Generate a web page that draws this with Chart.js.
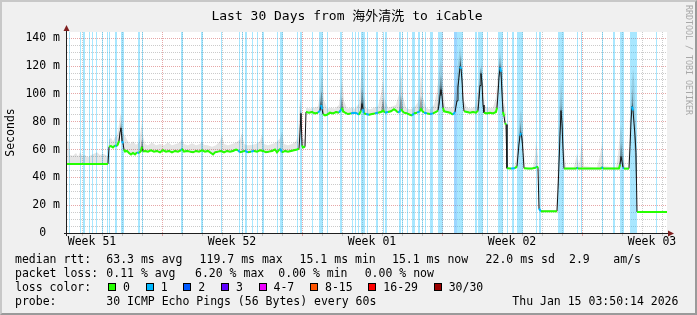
<!DOCTYPE html>
<html><head><meta charset="utf-8">
<script src="https://cdn.jsdelivr.net/npm/chart.js@4.4.1/dist/chart.umd.min.js"></script>
<style>
html,body{margin:0;padding:0;background:#f0f0f0;}
#wrap{position:relative;width:697px;height:315px;background:#f0f0f0;overflow:hidden;font-family:"DejaVu Sans Mono",monospace;}
#frame{position:absolute;left:0;top:0;width:697px;height:315px;box-sizing:border-box;border-top:2px solid #c8c8c8;border-left:2px solid #c8c8c8;border-right:2px solid #9a9a9a;border-bottom:2px solid #9a9a9a;pointer-events:none;}
canvas{position:absolute;left:0;top:0;}
.t{position:absolute;white-space:pre;font-family:"DejaVu Sans Mono",monospace;font-size:11.5px;line-height:14px;color:#000;}
#title{position:absolute;left:0;width:694px;top:8px;text-align:center;font-family:"DejaVu Sans Mono","Noto Sans CJK SC",monospace;font-size:13px;line-height:16px;white-space:pre;color:#000;}
#wm{position:absolute;left:684px;top:5px;writing-mode:vertical-rl;font-family:"DejaVu Sans Mono",monospace;font-size:8.3px;line-height:9px;color:#a8a8a8;white-space:pre;}
.lc{position:absolute;display:flex;align-items:center;height:14px;font-family:"DejaVu Sans Mono",monospace;font-size:11.5px;white-space:pre;}
.box{display:inline-block;width:8px;height:8px;box-sizing:border-box;border:1px solid #000;margin-right:7px;}
.lab{margin-right:15.7px;}
</style></head>
<body>
<div id="wrap">
  <canvas id="c" width="697" height="315"></canvas>
  <div id="title">Last 30 Days from 海外清洗 to iCable</div>
  <div id="wm">RRDTOOL / TOBI OETIKER</div>
  <div id="legend"></div>
  <div id="frame"></div>
</div>
<script>
// ---- DATA (x = RRD row index, one row = 72 minutes; 600 rows = 30 days) ----
const STEP_MINUTES = 72;
const ROWS = 600;

// median RTT in ms
const median = [
 [0,49.6],[41,49.6],[42,62],[44,62.5],[46,61.5],[48,63],[50,62.5],[51,64],[52,66],[53,72],[54,75.5],[55,66],[56,64.5],[57,60],[58,58.5],
 [60,59],[62,57.5],[64,56.5],[66,57.5],[68,56.5],[70,58],[72,57.5],[74,59],[75,62],[76,58.5],[78,59],[81,58.5],[84,59.5],[87,58.5],[90,59],
 [93,58],[96,59.5],[99,58.5],[102,59],[105,58],[108,59],[111,58.5],[114,59.5],[115,60.5],[117,58.5],[120,59],[123,58.5],[126,58],[129,59],
 [132,58.5],[135,59.5],[138,58.5],[141,59],[144,57.5],[146,56.5],[148,58],[151,58.5],[154,59],[157,58],[160,59],[163,58.5],[166,59],[169,60],
 [171,59.5],[173,58],[175,58.5],[178,59],[181,58],[184,58.5],[187,59],[190,58.5],[193,59.5],[196,59],[199,58],[202,58.5],[205,59],[208,60],
 [210,58],[213,60.5],[215,58],[218,59],[221,58.5],[224,59],[227,59.5],[230,60],[232,60.5],[233,72],[234,86],[235,63],[236,61.5],[238,62],
 [239,87],[242,86.5],[245,87],[248,86],[251,86.5],[253,88],[254,92],[255,89],[256,85.5],[258,84.5],[260,85],[263,86.5],[266,86],[269,87],
 [272,86.5],[274,88.5],[275,90],[276,87.5],[278,86.5],[281,85.5],[284,86],[287,86.5],[290,86],[292,85],[294,88],[295,93],[296,89],[297,86],
 [299,85.5],[302,85],[305,85.5],[308,86],[311,86.5],[314,87],[316,88],[318,86.5],[321,87],[324,87.5],[327,89],[329,88],[331,86.5],[333,87.5],
 [334,89],[335,88],[337,86.5],[340,86],[343,85],[345,84.5],[347,86],[350,86.5],[353,87.5],[354,89],[355,88],[357,86.5],[360,86],[363,85.5],
 [366,86],[369,87],[371,88],[372,92],[373,98],[374,103],[375,98],[376,90],[377,87.5],[380,87],[383,86.5],[386,85],[388,87],[390,95],[391,105],
 [392,112],[393,119.7],[394,118],[395,110],[396,95],[397,87.5],[400,87],[403,86.5],[406,87],[409,86.5],[411,88],[412,96],[413,106],[414,114.6],
 [415,108],[416,92],[417,86.5],[420,86],[423,86.5],[426,86],[429,87],[430,90],[431,100],[432,112],[433,119],[434,116],[435,100],[436,87],
 [437,84],[438,79],[439,78],[440,46.5],[444,46.3],[448,46.5],[450,48],[451,56],[452,64],[453,70],[454,72],[455,68],[456,58],[457,46.5],
 [461,46.3],[465,46.3],[469,47],[470,48],[471,46.5],[472,17.5],[473,16.5],[474,15.6],[490,15.6],[491,31],[492,50],[493,70],[494,88],[495,79],
 [496,60],[497,46.3],[509,46.3],[510,47],[511,46.3],[534,46.3],[535,47.5],[536,46.3],[552,46.3],[553,49],[554,55],[555,51],[556,47],[557,46.3],
 [562,46.3],[563,62],[564,80],[565,91],[566,88],[567,79],[568,70],[569,58],[570,15.1],[600,15.1]
];

// upper edge of the light smoke (slowest pings), ms
const smokeMax = [
 [0,66],[2,66],[3,56],[6,55.5],[9,57.5],[11,55],[13,58],[15,55.5],[18,56],[21,54.5],[24,56],[27,57],[30,58],[33,56],[36,57],[39,56],[41,55],
 [42,67],[44,68.5],[46,66],[48,69],[50,70],[52,78],[53,84],[54,86],[55,80],[56,72],[58,70],[60,67],[63,64],[66,66],[69,63.5],[72,65],[74,75],
 [75,80],[76,70],[78,64],[81,63],[85,65],[89,63],[93,64],[97,63],[101,65],[105,63],[109,64],[113,65],[115,68],[117,64],[121,63],[125,64.5],
 [129,63],[133,64],[135,66],[137,63.5],[141,63],[145,62],[149,63],[153,66],[155,71],[157,64],[161,63],[165,64],[169,65],[173,67],[175,72],
 [177,64],[181,63],[185,63.5],[189,64],[193,66],[195,71],[197,64],[201,63],[205,64],[209,65],[213,68],[215,73],[217,64],[221,63],[225,64],
 [229,66],[231,70],[233,96],[234,93],[235,68],[238,67],[239,90],[243,89.5],[247,90],[251,91],[253,100],[255,116],[257,96],[260,89.5],[264,90],
 [268,89.5],[272,92],[274,104],[275,112],[277,95],[280,89.5],[284,90],[288,89.5],[292,93],[294,110],[295,121],[297,100],[299,90],[303,89],[307,90],
 [311,91],[314,100],[316,110],[318,96],[321,90],[325,91],[329,92],[332,100],[334,117],[336,98],[339,90],[343,89],[347,90],[351,94],[353,104],
 [354,116],[356,97],[359,90],[363,89],[367,92],[370,102],[372,115],[374,127],[376,108],[378,91],[382,90],[386,91],[389,105],[391,122],[393,134],
 [395,125],[397,95],[400,90],[404,89.5],[408,91],[411,103],[413,118],[414,125],[416,108],[418,91],[422,90],[426,90],[429,98],[431,118],[433,132],
 [435,120],[437,95],[439,86],[440,46.8],[447,46.8],[449,53],[451,70],[453,85],[454,89],[456,75],[458,47],[466,46.8],[468,55],[469,66],[471,55],
 [472,19],[475,16],[489,16],[490,30],[491,55],[492,85],[494,111],[495,100],[497,62],[499,47],[507,47],[509,54],[510,57],[512,48],[514,60],
 [515,65],[517,48],[530,47],[533,56],[535,65],[537,48],[549,47],[551,56],[553,72],[554,78],[556,62],[558,47],[561,47],[562,62],[563,85],
 [565,110],[566,118],[567,112],[568,95],[569,75],[570,15.6],[600,15.6]
];

// darker smoke around the daily peaks (groups of three rows), ms
const smokeMid = [
 [51,64],[54,80],[57,60],  [73,58.3],[75,68],[77,58.7],  [232,60.5],[233.5,90],[235,63],
 [252,87.2],[254.5,102],[257,85],  [273,87.5],[275,98],[277,87],  [293,86.5],[295,104],[298,85.7],
 [314,87],[316,97],[318,86.5],  [332,87],[334,100],[336,87.2],  [352,87.2],[354,99],[356,87.2],
 [370,87.5],[374,114],[377,87.5],  [388,87],[393.5,128],[397,87.5],  [410,87.2],[414,120],[417,86.5],
 [429,87],[433,126],[437,84],  [450,48],[453.5,80],[457,46.5],  [490,15.6],[494,98],[497,46.3],
 [552,46.3],[554,65],[557,46.3],  [562,46.3],[565.5,104],[570,15.1]
];

// darkest smoke core (groups of three rows), ms
const smokeCore = [
 [53,72],[54,77],[55,66],  [233,72],[234,88],[235,63],  [253,88],[254,95],[255,89],  [294,88],[295,96],[296,89],
 [371,88],[374,106],[376,90],  [390,95],[393.5,124],[396,95],  [412,96],[414,117],[416,92],
 [431,100],[433,122],[435,100],  [451,56],[453.5,74],[456,58],  [492,50],[494,91],[496,60],
 [564,80],[565.5,94],[567,79]
];

// rows with 1 lost ping: [first row, number of rows]
const loss1 = [
 [2,1],[13,1],[16,2],[22,1],[25,1],[29,1],[35,1],[40,1],[42,1],[48,2],[54,3],[71,2],[75,1],[114,2],[134,2],[154,1],
 [172,1],[175,1],[178,2],[185,1],[190,1],[195,2],[210,1],[213,3],[230,1],[233,2],[245,1],[252,4],[260,1],[273,2],
 [285,1],[288,1],[291,1],[294,4],[300,1],[309,2],[316,1],[318,2],[332,2],[335,1],[340,1],[345,3],[351,2],[355,1],
 [358,1],[363,3],[371,5],[387,9],[408,2],[411,5],[420,1],[431,5],[440,1],[445,2],[450,6],[469,1],[472,2],[491,6],
 [510,1],[514,1],[535,1],[546,2],[553,4],[563,7],[589,1]
];
// rows with 2 lost pings
const loss2 = [[387,3]];

const yMajor = [0,20,40,60,80,100,120,140];
const yMinorStep = 5;
const Y_TOP = 144.5;
const weekLabels = ['Week 51','Week 52','Week 01','Week 02','Week 03'];
const weekLabelRows = [25,165,305,445,585];
const dayGridFirst = 15, dayGridEvery = 20;
const weekGridRows = [95,235,375,515];

// ---- legend texts ----
const lossLabels = ['0','1','2','3','4-7','8-15','16-29','30/30'];
const lossColors = ['#26ff00','#00b8ff','#0059ff','#5e00ff','#ee00ff','#ff5500','#ff0000','#9a0000'];
const rttText = ['median rtt:','63.3 ms avg','119.7 ms max','15.1 ms min','15.1 ms now','22.0 ms sd','2.9','am/s'];
const lossText = ['packet loss:','0.11 % avg','6.20 % max','0.00 % min','0.00 % now'];
const probeText = ['probe:','30 ICMP Echo Pings (56 Bytes) every 60s','Thu Jan 15 03:50:14 2026'];

// ---- layout of the legend ----
const rttX = [15,106.3,199.6,299.6,392,485.6,569,613.3];
const lossX = [15,106.3,195,278.3,364.7];
const probeX = [15,106.3,512.3];
const rowY = [252,266,280,294];

const leg = document.getElementById('legend');
function addRow(texts, xs, top){
  texts.forEach((t,i)=>{ const d=document.createElement('div'); d.className='t'; d.textContent=t; d.style.left=xs[i]+'px'; d.style.top=top+'px'; leg.appendChild(d); });
}
addRow(rttText, rttX, rowY[0]);
addRow(lossText, lossX, rowY[1]);
addRow(['loss color:'], [15], rowY[2]);
(function(){
  const d=document.createElement('div'); d.className='lc'; d.style.left='108px'; d.style.top=rowY[2]+'px';
  lossLabels.forEach((l,i)=>{
    const b=document.createElement('span'); b.className='box'; b.style.background=lossColors[i]; d.appendChild(b);
    const s=document.createElement('span'); s.className='lab'; s.textContent=l; d.appendChild(s);
  });
  leg.appendChild(d);
})();
addRow(probeText, probeX, rowY[3]);

// ---- build datasets ----
const pts = arr => arr.map(p=>({x:p[0],y:p[1]}));
function bands(list){ const d=[]; list.forEach(([s,n])=>{ d.push({x:s,y:Y_TOP},{x:s+n,y:Y_TOP},{x:s+n,y:null}); }); return d; }
function triples(list){ const d=[]; list.forEach((p,i)=>{ d.push({x:p[0],y:p[1]}); if(i%3===2) d.push({x:p[0],y:null}); }); return d; }
function inLoss(x){ return loss1.some(([s,n])=> x>=s && x<s+n); }

const xTicks = [];
for(let v=dayGridFirst; v<ROWS; v+=dayGridEvery) xTicks.push(v);
weekLabelRows.forEach(v=>xTicks.push(v));
xTicks.sort((a,b)=>a-b);
const yTicks = [];
for(let v=0; v<=yMajor[yMajor.length-1]; v+=yMinorStep) yTicks.push(v);

const GRID = 'rgba(140,140,140,0.45)';
const MGRID = 'rgba(200,60,60,0.45)';
const CLEAR = 'rgba(0,0,0,0)';
const FONT = 'DejaVu Sans Mono';

const framePlugin = {
  id:'framePlugin',
  beforeDraw(c){ const {ctx, chartArea:a}=c; ctx.save(); ctx.fillStyle='#ffffff'; ctx.fillRect(a.left,a.top,a.right-a.left,a.bottom-a.top); ctx.restore(); },
  afterDraw(c){
    const {ctx, chartArea:a}=c; ctx.save();
    ctx.strokeStyle='#1f1f1f'; ctx.lineWidth=1;
    ctx.beginPath(); ctx.moveTo(a.left-3, a.bottom+0.5); ctx.lineTo(a.right+2, a.bottom+0.5); ctx.stroke();
    ctx.beginPath(); ctx.moveTo(a.left-0.5, a.bottom+3); ctx.lineTo(a.left-0.5, a.top-2); ctx.stroke();
    ctx.fillStyle='#7f1f1f';
    ctx.beginPath(); ctx.moveTo(a.right+7, a.bottom+0.5); ctx.lineTo(a.right+1, a.bottom-2.5); ctx.lineTo(a.right+1, a.bottom+3.5); ctx.closePath(); ctx.fill();
    ctx.beginPath(); ctx.moveTo(a.left-0.5, a.top-7); ctx.lineTo(a.left-3.5, a.top-1); ctx.lineTo(a.left+2.5, a.top-1); ctx.closePath(); ctx.fill();
    ctx.restore();
  }
};

new Chart(document.getElementById('c'), {
  type:'line',
  data:{ datasets:[
    {data:bands(loss1), backgroundColor:'rgba(0,184,255,0.34)', borderWidth:0, borderColor:CLEAR, fill:'origin', spanGaps:false, pointRadius:0, order:10},
    {data:bands(loss2), backgroundColor:'rgba(70,90,255,0.12)', borderWidth:0, borderColor:CLEAR, fill:'origin', spanGaps:false, pointRadius:0, order:9},
    {data:pts(median), borderColor:'#141414', borderWidth:1, fill:false, pointRadius:0, order:3},
    {data:pts(smokeMax), backgroundColor:'rgba(0,0,0,0.1)', borderWidth:0, borderColor:CLEAR, fill:{target:2}, pointRadius:0, order:8},
    {data:triples(smokeMid), backgroundColor:'rgba(0,0,0,0.3)', borderWidth:0, borderColor:CLEAR, fill:{target:2}, spanGaps:false, pointRadius:0, order:7},
    {data:triples(smokeCore), backgroundColor:'rgba(0,0,0,0.6)', borderWidth:0, borderColor:CLEAR, fill:{target:2}, spanGaps:false, pointRadius:0, order:6},
    {data:pts(median), borderWidth:2, fill:false, pointRadius:0, order:1,
     segment:{ borderColor: ctx => {
        const a=ctx.p0.parsed, b=ctx.p1.parsed;
        if (Math.abs(b.y-a.y) > 3) return CLEAR;
        return inLoss((a.x+b.x)/2) ? '#00b8ff' : '#26ff00';
     }}}
  ]},
  options:{
    responsive:false, animation:false, events:[],
    layout:{padding:{left:0,right:30,top:32,bottom:62}},
    plugins:{legend:{display:false}, tooltip:{enabled:false}, title:{display:false}},
    elements:{point:{radius:0}, line:{tension:0}},
    scales:{
      x:{type:'linear', min:0, max:ROWS,
        afterBuildTicks:s=>{ s.ticks = xTicks.map(v=>({value:v})); },
        afterFit:s=>{ s.height=20; },
        grid:{ color:c=> weekLabelRows.includes(c.tick.value)?CLEAR:(weekGridRows.includes(c.tick.value)?MGRID:GRID),
               tickColor:c=> weekLabelRows.includes(c.tick.value)?CLEAR:(weekGridRows.includes(c.tick.value)?MGRID:GRID),
               lineWidth:1, drawTicks:true, tickLength:3 },
        border:{display:false, dash:[1,1]},
        ticks:{autoSkip:false, maxRotation:0, minRotation:0, padding:0, color:'#000',
               font:{family:FONT, size:11.5, lineHeight:1},
               callback:v=>{ const i=weekLabelRows.indexOf(v); return i>=0?weekLabels[i]:''; }}
      },
      y:{type:'linear', min:0, max:Y_TOP,
        afterBuildTicks:s=>{ s.ticks = yTicks.map(v=>({value:v})); },
        afterFit:s=>{ s.width=67; },
        grid:{ color:c=> (c.tick.value%20===0)?MGRID:GRID, lineWidth:1, drawTicks:false },
        border:{display:false, dash:[1,1]},
        ticks:{autoSkip:false, padding:7, color:'#000', font:{family:FONT, size:11.5},
               callback:v=> yMajor.includes(v) ? (v===0 ? '0  ' : v+' m') : ''},
        title:{display:true, text:'Seconds', color:'#000', font:{family:FONT, size:11.5}, padding:{top:4,bottom:0}}
      }
    }
  },
  plugins:[framePlugin]
});
</script>
</body></html>
